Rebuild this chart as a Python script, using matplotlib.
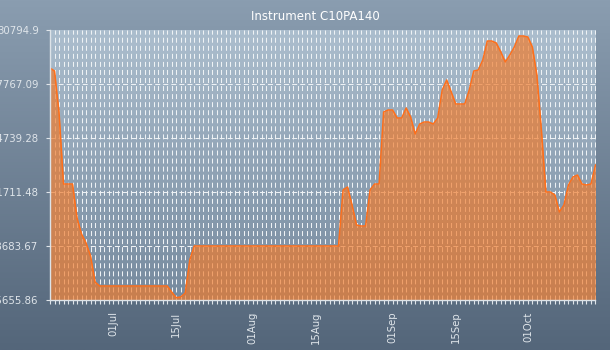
import numpy as np
import pandas as pd
import matplotlib
matplotlib.use("Agg")
import matplotlib.pyplot as plt
import matplotlib.dates as mdates
from matplotlib.ticker import FixedLocator

plt.rcParams["font.family"] = ["DejaVu Sans"]
plt.rcParams["lines.scale_dashes"] = False

title = "Instrument C10PA140"
start_date = "2013-06-17"
prices = [
    28664, 28496, 26197, 22160, 22160, 22160, 20254, 19357, 18852, 18123,
    16665, 16441, 16441, 16441, 16441, 16441, 16441, 16441, 16441, 16441,
    16441, 16441, 16441, 16441, 16441, 16441, 16441, 16104, 15790, 15824,
    16048, 17899, 18684, 18684, 18684, 18684, 18684, 18684, 18684, 18684,
    18684, 18684, 18684, 18684, 18684, 18684, 18684, 18684, 18684, 18684,
    18684, 18684, 18684, 18684, 18684, 18684, 18684, 18684, 18684, 18684,
    18684, 18684, 18684, 18684, 18684, 21824, 21992, 20983, 19861, 19805,
    19805, 21824, 22160, 22160, 26197, 26309, 26309, 25861, 25861, 26421,
    25917, 24964, 25524, 25636, 25636, 25524, 25861, 27431, 27991, 27319,
    26646, 26646, 26646, 27431, 28496, 28552, 29113, 30178, 30178, 30066,
    29561, 29001, 29393, 29842, 30458, 30458, 30402, 29842, 28272, 25188,
    21712, 21712, 21543, 20590, 20983, 22104, 22553, 22665, 22160, 22104,
    22160, 23225,
]
y_ticks = [15655.86, 18683.67, 21711.48, 24739.28, 27767.09, 30794.9]
y_tick_labels = ["15655.86", "18683.67", "21711.48", "24739.28", "27767.09", "30794.9"]
x_label_dates = ["2013-07-01", "2013-07-15", "2013-08-01", "2013-08-15",
                 "2013-09-01", "2013-09-15", "2013-10-01"]

dates = pd.date_range(start_date, periods=len(prices), freq="D")
values = np.array(prices, dtype=float)

W, H = 610, 350
fig = plt.figure(figsize=(W / 100, H / 100), dpi=100)

# figure background: vertical blue-grey gradient
bg = fig.add_axes([0, 0, 1, 1], zorder=-10)
grad = np.linspace(0, 1, 256).reshape(-1, 1)
top_c = np.array([138, 157, 176]) / 255
bot_c = np.array([84, 102, 122]) / 255
img = top_c[None, None, :] * (1 - grad[..., None]) + bot_c[None, None, :] * grad[..., None]
bg.imshow(img, aspect="auto", extent=[0, 1, 0, 1])
bg.set_axis_off()

ax = fig.add_axes([50 / W, 50 / H, 545.5 / W, 270 / H])
ax.set_facecolor("none")

# plot area gradient
p_top = np.array([172, 190, 206]) / 255
p_bot = np.array([118, 138, 158]) / 255
pimg = p_top[None, None, :] * (1 - grad[..., None]) + p_bot[None, None, :] * grad[..., None]
ax.imshow(pimg, aspect="auto", extent=[0, 1, 0, 1], transform=ax.transAxes, zorder=0)

ymin, ymax = y_ticks[0], y_ticks[-1]
ax.set_ylim(ymin, ymax)
ax.set_xlim(dates[0], dates[-1])

# grid: one dashed line per day plus the value levels
grid_c = "#eef2f5"
for d in dates:
    ax.axvline(d, color=grid_c, lw=0.75, ls=(0, (3.6, 2.2)), zorder=1)
for yv in y_ticks[1:-1]:
    ax.axhline(yv, color=grid_c, lw=0.75, ls=(0, (3.6, 2.2)), zorder=1)

ax.fill_between(dates, values, ymin, color="#f07a2a", alpha=0.68, lw=0, zorder=2)
ax.plot(dates, values, color="#ff6f1a", lw=1.1, zorder=3)

ax.set_yticks(y_ticks)
ax.set_yticklabels(y_tick_labels)
ax.xaxis.set_major_locator(FixedLocator(mdates.date2num(pd.to_datetime(x_label_dates))))
ax.xaxis.set_major_formatter(mdates.DateFormatter("%d%b"))
ax.xaxis.set_minor_locator(FixedLocator(mdates.date2num(dates)))

lab_c = "#dfe5ea"
ax.tick_params(axis="y", which="both", direction="out", length=3.2, width=0.8,
               color="#e0e5ea", labelcolor=lab_c, labelsize=7.3, pad=5)
ax.tick_params(axis="x", which="both", direction="out", length=3.2, width=0.8,
               color="#e0e5ea", labelcolor=lab_c, labelsize=7.3, pad=5,
               labelrotation=90)
for lbl in ax.get_xticklabels():
    lbl.set_horizontalalignment("center")

for side in ["top", "right"]:
    ax.spines[side].set_visible(False)
for side in ["left", "bottom"]:
    ax.spines[side].set_color("#dde3e8")
    ax.spines[side].set_linewidth(1.0)
    ax.spines[side].set_zorder(4)

fig.text(315 / W, 1 - 17 / H, title, ha="center", va="center", color="white", fontsize=8.5)

fig.savefig("out.png", dpi=100)
